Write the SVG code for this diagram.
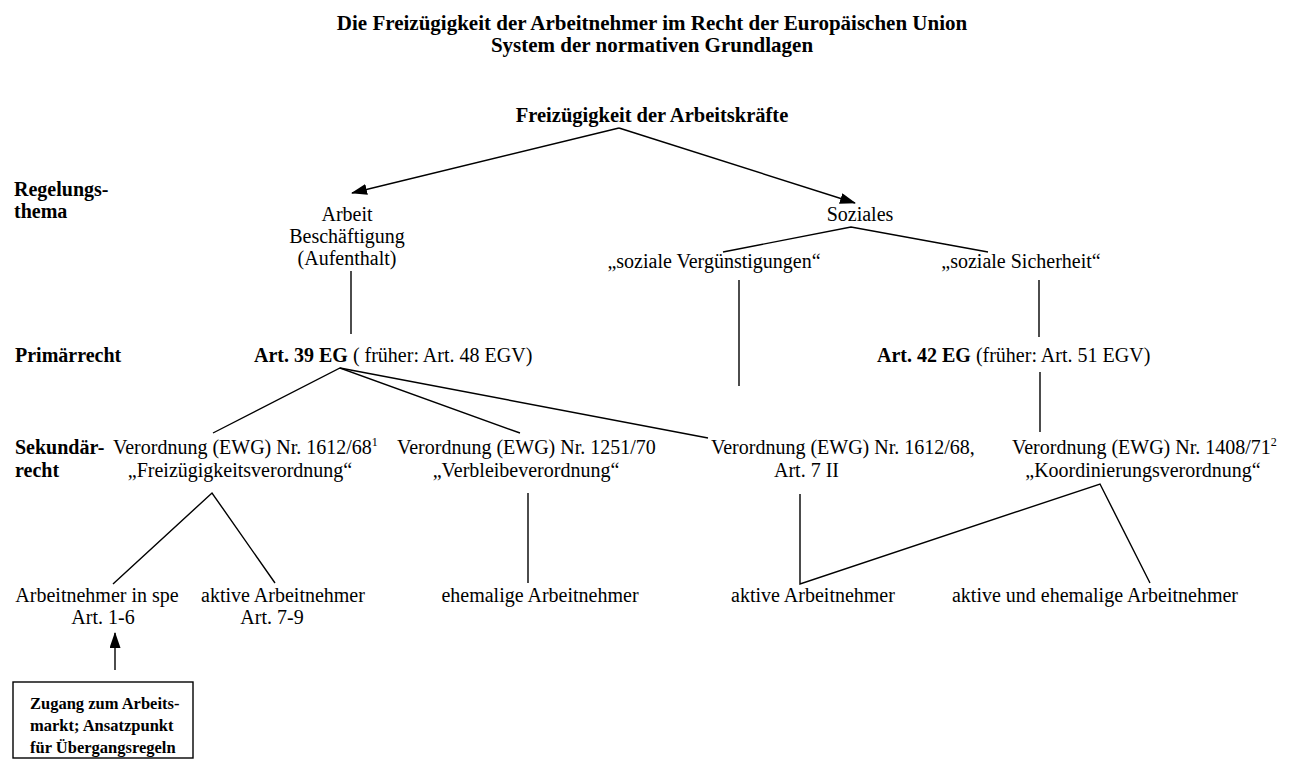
<svg xmlns="http://www.w3.org/2000/svg" width="1300" height="760" viewBox="0 0 1300 760">
<style>
text{font-family:"Liberation Serif","Times New Roman",serif;font-size:20px;fill:#000}
.b{font-weight:bold}
.c{text-anchor:middle}
.t{font-size:21px}
.r{font-size:20.5px}
.box{font-size:16.5px;font-weight:bold}
.sup{font-size:12px}
.ln{stroke:#000;stroke-width:1.4;fill:none}
</style>
<defs>
<marker id="ah" viewBox="0 0 16 11" refX="15" refY="5.5" markerWidth="16" markerHeight="11" markerUnits="userSpaceOnUse" orient="auto">
<path d="M0,0 L16,5.5 L0,11 Z" fill="#000"/>
</marker>
</defs>
<rect width="1300" height="760" fill="#fff"/>

<g id="title">
<text class="b c t" x="652" y="30">Die Freizügigkeit der Arbeitnehmer im Recht der Europäischen Union</text>
<text class="b c t" x="652" y="52">System der normativen Grundlagen</text>
</g>

<g id="row-labels">
<text class="b" x="14" y="196">Regelungs-</text>
<text class="b" x="14" y="218">thema</text>
<text class="b" x="15" y="362">Primärrecht</text>
<text class="b" x="15" y="454">Sekundär-</text>
<text class="b" x="15" y="477">recht</text>
</g>

<g id="root"><text class="b c r" x="652" y="122">Freizügigkeit der Arbeitskräfte</text></g>

<g id="arbeit">
<text class="c" x="347" y="221">Arbeit</text>
<text class="c" x="347" y="243">Beschäftigung</text>
<text class="c" x="347" y="265">(Aufenthalt)</text>
</g>
<g id="soziales"><text class="c" x="860" y="221">Soziales</text></g>
<g id="verguenstigungen"><text class="c" x="714" y="268">„soziale Vergünstigungen“</text></g>
<g id="sicherheit"><text class="c" x="1021" y="268">„soziale Sicherheit“</text></g>

<g id="art39"><text x="254" y="362"><tspan class="b">Art. 39 EG</tspan> ( früher: Art. 48 EGV)</text></g>
<g id="art42"><text x="877" y="362"><tspan class="b">Art. 42 EG</tspan> (früher: Art. 51 EGV)</text></g>

<g id="vo1612">
<text x="113" y="454">Verordnung (EWG) Nr. 1612/68<tspan class="sup" dy="-8">1</tspan></text>
<text class="c" x="240" y="477">„Freizügigkeitsverordnung“</text>
</g>
<g id="vo1251">
<text x="397" y="454">Verordnung (EWG) Nr. 1251/70</text>
<text class="c" x="526" y="477">„Verbleibeverordnung“</text>
</g>
<g id="vo1612-art7">
<text x="711" y="454">Verordnung (EWG) Nr. 1612/68,</text>
<text x="774" y="477">Art. 7 II</text>
</g>
<g id="vo1408">
<text x="1012" y="454">Verordnung (EWG) Nr. 1408/71<tspan class="sup" dy="-8">2</tspan></text>
<text class="c" x="1143" y="477">„Koordinierungsverordnung“</text>
</g>

<g id="in-spe">
<text class="c" x="97" y="602">Arbeitnehmer in spe</text>
<text class="c" x="103" y="624">Art. 1-6</text>
</g>
<g id="aktive1">
<text class="c" x="283" y="602">aktive Arbeitnehmer</text>
<text class="c" x="272" y="624">Art. 7-9</text>
</g>
<g id="ehemalige"><text class="c" x="540" y="602">ehemalige Arbeitnehmer</text></g>
<g id="aktive2"><text class="c" x="813" y="602">aktive Arbeitnehmer</text></g>
<g id="aktive-ehemalige"><text class="c" x="1095" y="602">aktive und ehemalige Arbeitnehmer</text></g>

<g id="zugang">
<rect x="13" y="682" width="180" height="76" fill="none" stroke="#000" stroke-width="1.4"/>
<text class="box" x="30" y="709">Zugang zum Arbeits-</text>
<text class="box" x="30" y="731">markt; Ansatzpunkt</text>
<text class="box" x="30" y="753">für Übergangsregeln</text>
</g>

<g id="connectors">
<line class="ln" x1="619" y1="128" x2="352" y2="193" marker-end="url(#ah)"/>
<line class="ln" x1="619" y1="128" x2="855" y2="203" marker-end="url(#ah)"/>
<polyline class="ln" points="723,252 851,227 988,252"/>
<line class="ln" x1="351" y1="271" x2="351" y2="334"/>
<line class="ln" x1="739" y1="280" x2="739" y2="386"/>
<line class="ln" x1="1039" y1="280" x2="1039" y2="337"/>
<polyline class="ln" points="213,433 340,368 520,433"/>
<line class="ln" x1="340" y1="368" x2="708" y2="438"/>
<line class="ln" x1="1040" y1="372" x2="1040" y2="432"/>
<polyline class="ln" points="113,584 212,493 275,583"/>
<line class="ln" x1="528" y1="493" x2="528" y2="583"/>
<polyline class="ln" points="800,494 800,584 1100,484 1150,583"/>
<line class="ln" x1="115" y1="670" x2="115" y2="633" marker-end="url(#ah)"/>
</g>
</svg>
